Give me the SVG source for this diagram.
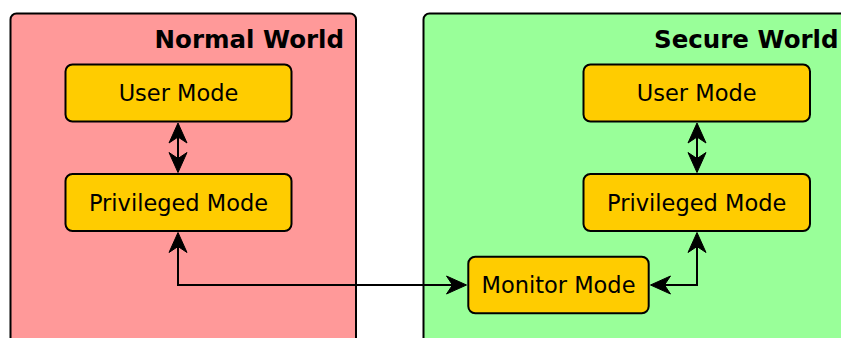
<svg xmlns="http://www.w3.org/2000/svg" width="841" height="338" viewBox="0 0 841 338">
  <style>
    .world { stroke: #000; stroke-width: 2; }
    .normal { fill: #FF9999; }
    .secure { fill: #99FF99; }
    .mode { fill: #FFCC00; stroke: #000; stroke-width: 2; }
    .title { font-family: "DejaVu Sans", "Liberation Sans", sans-serif; font-weight: bold; font-size: 24.5px; text-anchor: end; fill: #000; }
    .label { font-family: "DejaVu Sans", "Liberation Sans", sans-serif; font-size: 22.5px; text-anchor: middle; fill: #000; }
    .link { fill: none; stroke: #000; stroke-width: 2; }
    .head { fill: #000; stroke: #000; stroke-width: 1; stroke-linejoin: miter; }
  </style>
  <defs>
    <!-- barbed arrowhead pointing along +x, tip at the origin, notch at x=-14 -->
    <path id="head" d="M0,0 L-20,-9 L-14,0 L-20,9 Z"/>
  </defs>

  <rect width="841" height="338" fill="#fff"/>

  <g id="normal-world">
    <rect class="world normal" x="10.5" y="13.5" width="345.5" height="340" rx="6"/>
    <text class="title" x="344" y="47.5">Normal World</text>
  </g>
  <g id="secure-world">
    <rect class="world secure" x="423.5" y="13.5" width="428" height="340" rx="6"/>
    <text class="title" x="838.5" y="47.5">Secure World</text>
  </g>

  <g id="normal-user">
    <rect class="mode" x="65.5" y="64.5" width="226" height="57" rx="7"/>
    <text class="label" x="178.5" y="101">User Mode</text>
  </g>
  <g id="normal-privileged">
    <rect class="mode" x="65.5" y="174" width="226" height="57" rx="7"/>
    <text class="label" x="178.5" y="210.5">Privileged Mode</text>
  </g>
  <g id="secure-user">
    <rect class="mode" x="583.5" y="64.5" width="226.5" height="57" rx="7"/>
    <text class="label" x="696.7" y="101">User Mode</text>
  </g>
  <g id="secure-privileged">
    <rect class="mode" x="583.5" y="174" width="226.5" height="57" rx="7"/>
    <text class="label" x="696.7" y="210.5">Privileged Mode</text>
  </g>
  <g id="monitor">
    <rect class="mode" x="468.3" y="256.7" width="180.4" height="56.6" rx="7"/>
    <text class="label" x="558.5" y="293">Monitor Mode</text>
  </g>

  <g id="connectors">
    <!-- user <-> privileged, normal world -->
    <path class="link" d="M178,135 V161"/>
    <use href="#head" class="head" transform="translate(178,123) rotate(-90)"/>
    <use href="#head" class="head" transform="translate(178,172.5) rotate(90)"/>
    <!-- user <-> privileged, secure world -->
    <path class="link" d="M697,135 V161"/>
    <use href="#head" class="head" transform="translate(697,123) rotate(-90)"/>
    <use href="#head" class="head" transform="translate(697,172.5) rotate(90)"/>
    <!-- normal privileged <-> monitor -->
    <path class="link" d="M178,244 V285 H455"/>
    <use href="#head" class="head" transform="translate(178,232.5) rotate(-90)"/>
    <use href="#head" class="head" transform="translate(466.5,285)"/>
    <!-- secure privileged <-> monitor -->
    <path class="link" d="M697,244 V285 H662"/>
    <use href="#head" class="head" transform="translate(697,232.5) rotate(-90)"/>
    <use href="#head" class="head" transform="translate(650.5,285) rotate(180)"/>
  </g>
</svg>
